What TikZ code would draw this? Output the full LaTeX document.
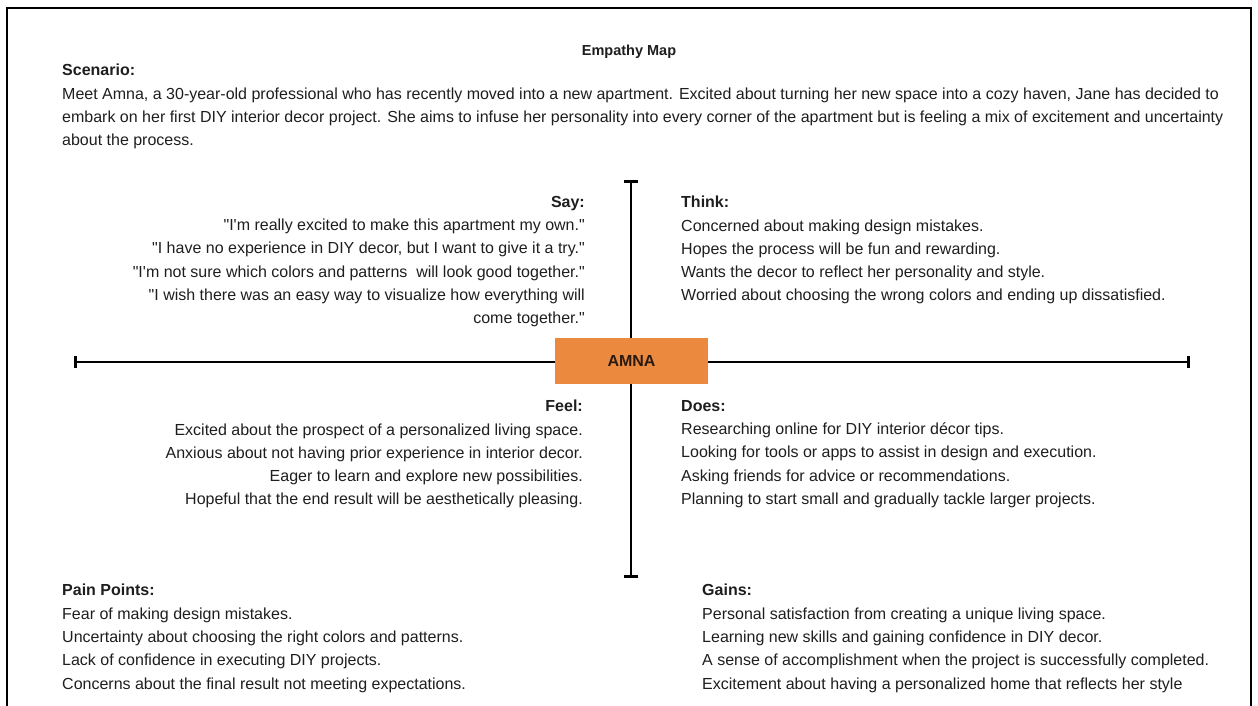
\documentclass[tikz,border=0pt]{standalone}
\usepackage{fontspec}
\setmainfont{Liberation Sans}[Ligatures=TeXOff]
\usetikzlibrary{arrows.meta}
\definecolor{ink}{HTML}{1E1E1E}
\definecolor{amnaorange}{HTML}{EB8A3F}
\definecolor{amnatext}{HTML}{2A1A10}
\tikzset{
  body/.style={inner sep=0pt, text=ink, font=\fontsize{16}{23.3}\selectfont},
  lblock/.style={body, anchor=north west, align=left},
  rblock/.style={body, anchor=north east, align=right},
  axis/.style={line width=2.8pt, black},
  frame/.style={line width=2.8pt, black},
  centerbox/.style={fill=amnaorange, draw=none, minimum width=153pt, minimum height=46pt, inner sep=0pt, font=\fontsize{16}{18}\selectfont\bfseries, text=amnatext}
}
\begin{document}
\begin{tikzpicture}[x=1pt,y=-1pt]
\useasboundingbox (0,0) rectangle (1258,706);
\draw[frame] (7,706) -- (7,8) -- (1251,8) -- (1251,706);

\node[body, font=\fontsize{14.5}{16}\selectfont\bfseries, anchor=center] (title) at (629,52) {Empathy Map};

\node[lblock] (scenario) at (62,64) {\textbf{Scenario:}\\
Meet Amna, a 30-year-old professional who has recently moved into a new apartment. Excited about turning her new space into a cozy haven, Jane has decided to\\
embark on her first DIY interior decor project. She aims to infuse her personality into every corner of the apartment but is feeling a mix of excitement and uncertainty\\
about the process.};

\coordinate (vtop) at (631,180);
\coordinate (vbot) at (631,578);
\coordinate (hleft) at (74,362);
\coordinate (hright) at (1190,362);
\node[centerbox] (amna) at (631.5,361) {AMNA};
\draw[axis, {Bar[width=14pt,line width=2.8pt]}-] (vtop) -- (amna.north -| vtop);
\draw[axis, -{Bar[width=14pt,line width=2.8pt]}] (amna.south -| vbot) -- (vbot);
\draw[axis, {Bar[width=12pt,line width=2.8pt]}-] (hleft) -- (amna.west |- hleft);
\draw[axis, -{Bar[width=12pt,line width=2.8pt]}] (amna.east |- hright) -- (hright);

\node[rblock] (say) at (585,196) {\textbf{Say:}\\
"I'm really excited to make this apartment my own."\\
"I have no experience in DIY decor, but I want to give it a try."\\
"I'm not sure which colors and patterns\ \ will look good together."\\
"I wish there was an easy way to visualize how everything will\\
come together."};

\node[lblock] (think) at (681,196) {\textbf{Think:}\\
Concerned about making design mistakes.\\
Hopes the process will be fun and rewarding.\\
Wants the decor to reflect her personality and style.\\
Worried about choosing the wrong colors and ending up dissatisfied.};

\node[rblock] (feel) at (583,400) {\textbf{Feel:}\\
Excited about the prospect of a personalized living space.\\
Anxious about not having prior experience in interior decor.\\
Eager to learn and explore new possibilities.\\
Hopeful that the end result will be aesthetically pleasing.};

\node[lblock] (does) at (681,400) {\textbf{Does:}\\
Researching online for DIY interior décor tips.\\
Looking for tools or apps to assist in design and execution.\\
Asking friends for advice or recommendations.\\
Planning to start small and gradually tackle larger projects.};

\node[lblock] (pain) at (62,584) {\textbf{Pain Points:}\\
Fear of making design mistakes.\\
Uncertainty about choosing the right colors and patterns.\\
Lack of confidence in executing DIY projects.\\
Concerns about the final result not meeting expectations.};

\node[lblock] (gains) at (702,584) {\textbf{Gains:}\\
Personal satisfaction from creating a unique living space.\\
Learning new skills and gaining confidence in DIY decor.\\
A sense of accomplishment when the project is successfully completed.\\
Excitement about having a personalized home that reflects her style};
\end{tikzpicture}
\end{document}
